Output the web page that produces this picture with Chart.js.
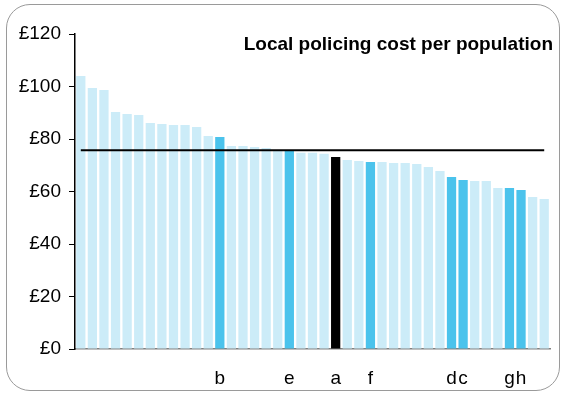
<!DOCTYPE html>
<html>
<head>
<meta charset="utf-8">
<title>Local policing cost per population</title>
<script src="https://cdn.jsdelivr.net/npm/chart.js@4"></script>
<style>
  body { margin: 0; background: #fff; }
  .wrap { position: relative; width: 562px; height: 393px; }
  .frame {
    position: absolute; left: 6px; top: 4px; width: 554px; height: 387px;
    box-sizing: border-box; border: 1.5px solid #9a9a9a; border-radius: 24px;
    pointer-events: none;
  }
  .title {
    position: absolute; right: 9px; top: 34px;
    font: bold 19px 'Liberation Sans', Arial, sans-serif; line-height: 19px;
    color: #000; white-space: nowrap;
  }
</style>
</head>
<body>
<div class="wrap">
  <canvas id="chart" width="562" height="393"></canvas>
  <div class="frame"></div>
  <div class="title">Local policing cost per population</div>
</div>
<script>
// forces, most of them unlabelled
const labels = ['', '', '', '', '', '', '', '', '', '', '', '', 'b', '', '', '', '', '', 'e', '', '',
  '', 'a', '', '', 'f', '', '', '', '', '', '', 'd', 'c', '', '', '', 'g', 'h', '', ''];

// cost per head, pounds
const costs = [104, 99.4, 98.7, 90.3, 89.5, 89.1, 86.1, 85.7, 85.3, 85.3, 84.6, 81.1, 80.8, 77.3,
  77.3, 77.0, 76.6, 75.8, 75.6, 74.8, 74.8, 74.4, 73.1, 72.0, 71.6, 71.2, 71.2, 70.9, 70.9, 70.5,
  69.3, 67.8, 65.5, 64.4, 64.0, 64.0, 61.3, 61.3, 60.6, 57.9, 57.1];

// average line
const average = 75.7;

const yTicks = [0, 20, 40, 60, 80, 100, 120];

// colours: 'a' black, other named forces mid blue, the rest pale
const barColors = labels.map(l => l === 'a' ? '#000000' : (l ? '#4bc3ec' : '#ccecf8'));

Chart.defaults.font.family = "'Liberation Sans', Arial, sans-serif";
Chart.defaults.font.size = 19;
Chart.defaults.color = '#000';

new Chart(document.getElementById('chart'), {
  data: {
    labels: labels,
    datasets: [
      {
        type: 'line',
        data: labels.map(() => average),
        borderColor: '#000',
        borderWidth: 2,
        pointRadius: 0,
        order: 0
      },
      {
        type: 'bar',
        data: costs,
        backgroundColor: barColors,
        categoryPercentage: 1,
        barPercentage: 0.8,
        order: 1
      }
    ]
  },
  options: {
    responsive: false,
    animation: false,
    layout: { padding: { left: 10, right: 12, top: 34, bottom: 0 } },
    plugins: {
      legend: { display: false },
      tooltip: { enabled: false }
    },
    scales: {
      x: {
        grid: { display: false },
        border: { color: '#808080', width: 1.5 },
        ticks: { autoSkip: false, maxRotation: 0, padding: 10 },
        afterFit: s => { s.height = 44; }
      },
      y: {
        min: 0,
        max: 120,
        afterBuildTicks: s => { s.ticks = yTicks.map(v => ({ value: v })); },
        ticks: { padding: 8, callback: v => '£' + v },
        grid: { drawOnChartArea: false, tickLength: 6, color: '#000' },
        border: { color: '#000', width: 1.5 },
        afterFit: s => { s.width = 65; }
      }
    }
  }
});
</script>
</body>
</html>
